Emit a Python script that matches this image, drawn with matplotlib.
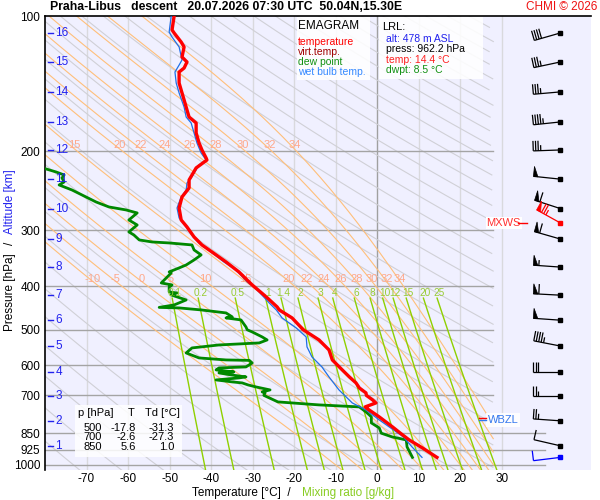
import numpy as np
import matplotlib
matplotlib.use('Agg')
import matplotlib.pyplot as plt
from matplotlib.patches import Rectangle
from matplotlib.ticker import NullLocator, FixedLocator

plt.rcParams['font.family'] = ['Liberation Sans', 'DejaVu Sans']

# ---------------- sounding ----------------
temp_p = [100, 107.4, 109.1, 114.3, 117.2, 123.4, 126.6, 130.6, 133.3, 141.0, 148.4, 153.8, 162.0, 167.9,
          173.1, 182.2, 191.8, 198.8, 207.1, 209.3, 218.0, 231.9, 241.6, 253.0, 267.7, 284.7, 295.1, 310.6,
          323.6, 335.4, 353.1, 371.6, 397.3, 422.5, 444.7, 451.6, 470.5, 500.0, 526.8, 554.5, 583.7, 614.4,
          636.8, 656.7, 673.7, 691.2, 700.0, 716.5, 727.7, 742.7, 750.4, 781.8, 823.0, 850.0, 879.7, 916.6, 962.2]
temp_t = [-48.9, -49.4, -48.9, -47.2, -46.5, -47.0, -45.8, -46.5, -47.7, -47.7, -47.0, -46.5, -45.8, -45.3,
          -43.6, -43.6, -42.9, -42.2, -41.2, -41.0, -43.6, -45.3, -45.3, -47.0, -47.7, -47.2, -45.8, -44.1,
          -42.2, -39.8, -36.4, -33.3, -30.1, -26.7, -24.1, -23.6, -20.5, -17.8, -14.0, -11.6, -10.8, -8.4,
          -6.7, -5.1, -4.3, -2.7, -2.6, -1.1, -0.3, -2.9, -2.3, 0.5, 3.7, 5.6, 7.7, 10.9, 14.4]

wb_p = [100, 108.6, 111.4, 117.2, 125.3, 128.6, 133.3, 141.0, 148.4, 159.5, 167.9, 173.1, 182.2, 191.8,
        201.9, 209.3, 214.7, 229.5, 235.5, 244.1, 253.0, 267.7, 281.8, 295.1, 307.4, 320.3, 335.4, 353.1,
        367.9, 391.2, 407.6, 435.7, 451.6, 470.5, 495.3, 518.7, 546.0, 574.8, 605.0, 636.8, 680.7, 727.7,
        754.2, 793.9, 844.3, 866.3, 911.9, 962.2]
wb_t = [-49.6, -50.1, -49.4, -47.7, -47.0, -47.7, -48.7, -48.4, -47.7, -46.5, -46.0, -44.8, -44.1, -43.4,
        -42.4, -41.2, -42.9, -44.8, -45.8, -46.0, -47.2, -48.2, -47.7, -46.0, -44.6, -42.9, -40.0, -36.9,
        -34.0, -31.3, -28.9, -26.0, -24.3, -22.9, -19.5, -17.1, -16.9, -15.7, -13.3, -11.6, -9.2, -6.0,
        -2.7, 0.5, 4.6, 6.3, 8.4, 10.8]

dew_p = [216.0, 222.6, 226.0, 229.5, 234.3, 237.9, 244.1, 250.4, 259.6, 266.3, 270.4, 274.6, 284.7, 292.1,
         302.7, 307.4, 315.4, 318.7, 320.3, 323.6, 332.0, 340.6, 349.5, 358.6, 364.1, 371.6, 373.6, 383.3,
         393.3, 397.3, 401.4, 411.8, 414.0, 418.2, 429.1, 440.2, 445.8, 447.0, 451.6, 458.6, 468.1, 470.5,
         475.4, 492.8, 500.0, 505.6, 518.7, 526.8, 534.9, 540.5, 548.8, 563.1, 577.7, 583.7, 585.0, 592.8,
         605.0, 608.1, 614.4, 620.7, 623.9, 630.3, 636.8, 640.1, 646.7, 653.3, 656.7, 663.5, 670.3, 680.7,
         687.7, 691.2, 700.0, 723.9, 727.7, 735.1, 742.7, 762.0, 773.8, 781.8, 806.3, 827.2, 850.0, 866.3,
         879.7, 911.9, 962.2]
dew_t = [-82.0, -77.3, -75.4, -75.9, -75.4, -76.6, -73.5, -71.1, -67.7, -64.6, -60.5, -57.8, -59.8, -57.8,
         -59.8, -58.6, -57.3, -54.2, -50.1, -44.6, -44.1, -42.4, -44.1, -46.0, -47.7, -50.1, -49.6, -50.8,
         -52.0, -49.4, -50.1, -50.1, -48.2, -49.6, -46.0, -48.9, -52.5, -47.7, -42.4, -36.4, -34.9, -36.4,
         -32.8, -31.6, -31.3, -30.1, -27.7, -26.5, -28.4, -38.1, -44.6, -46.0, -42.9, -36.4, -30.8, -30.1,
         -31.6, -38.1, -38.8, -34.5, -38.1, -35.2, -31.6, -33.3, -38.8, -34.9, -32.5, -31.1, -29.2, -25.8,
         -27.7, -27.0, -27.3, -23.9, -20.5, -14.0, -4.3, -2.7, -1.9, -1.4, -1.4, 0.5, 1.0, 3.6,
         7.0, 7.2, 8.5]

# winds (every km + max wind + surface), knots
barb_p = [109.1, 126.6, 147.6, 172.2, 198.8, 230.9, 268.5, 313.9, 362.5, 418.7, 476.0, 543.4, 620.3, 702.6, 797.6, 906.6]
barb_dir = [254, 258, 265, 264, 268, 276, 288, 286, 274, 273, 274, 281, 270, 270, 274, 283]
barb_spd = [40, 35, 35, 45, 35, 50, 60, 60, 55, 60, 50, 45, 30, 25, 25, 10]
mxws_p, mxws_dir, mxws_spd = 289.0, 299, 75
sfc_p, sfc_dir, sfc_spd = 962.2, 263, 10
wbzl_p = 794.0

# altitude marks
km_vals = [1, 2, 3, 4, 5, 6, 7, 8, 9, 10, 11, 12, 13, 14, 15, 16]
km_p = [906.6, 797.6, 702.6, 620.3, 543.4, 476.0, 418.7, 362.5, 313.9, 268.5, 230.9, 198.8, 172.2, 147.6, 126.6, 109.1]

# table and LRL
tab_p = [500, 700, 850]
tab_t = [-17.8, -2.6, 5.6]
tab_td = [-31.3, -27.3, 1.0]
lrl_alt, lrl_press, lrl_temp, lrl_dwpt = 478, 962.2, 14.4, 8.5

# background isolines
theta_k = list(range(190, 590, 10))
thw_vals = [-10, -5, 0, 5, 10, 15, 20, 22, 24, 26, 28, 30, 32, 34]
mix_vals = [0.1, 0.2, 0.5, 1, 1.4, 2, 3, 4, 6, 8, 10, 12, 15, 20, 25]
p_ticks = [100, 200, 300, 400, 500, 600, 700, 850, 925, 1000]
t_ticks = [-70, -60, -50, -40, -30, -20, -10, 0, 10, 20, 30]

T_LEFT, T_RIGHT, T_CLIP = -80.0, 51.5, 28.0
P_BOT, P_TOP = 1026.5, 100.0

RD, CP, LV, EPS = 287.04, 1005.7, 2.501e6, 0.622


def esat(tc):
    return 6.112 * np.exp(17.67 * tc / (tc + 243.5))


def lapse(T, p):
    es = esat(T - 273.15)
    rs = EPS * es / (p - es)
    return (RD * T + LV * rs) / (p * (CP + LV ** 2 * rs * EPS / (RD * T ** 2)))


def moist_line(tw, plev):
    out = []
    for seg in (plev[plev <= 1000][::-1], plev[plev >= 1000]):
        T = tw + 273.15
        vals = [T]
        for i in range(1, len(seg)):
            p0, p1 = seg[i - 1], seg[i]
            k1 = lapse(T, p0)
            k2 = lapse(T + 0.5 * (p1 - p0) * k1, 0.5 * (p0 + p1))
            T = T + (p1 - p0) * k2
            vals.append(T)
        out.append((seg, np.array(vals) - 273.15))
    p = np.concatenate([out[0][0][::-1], out[1][0][1:]])
    t = np.concatenate([out[0][1][::-1], out[1][1][1:]])
    return p, t


def mix_td(w, p):
    e = w * p / (622.0 + w)
    a = np.log(e / 6.112)
    return 243.5 * a / (17.67 - a)


W, H = 600, 500
fig = plt.figure(figsize=(6, 5), dpi=100)
ax = fig.add_axes([45 / W, 1 - 470 / H, 546 / W, 454 / H])
ax.set_facecolor('#f0f0ff')
ax.set_yscale('log')
ax.set_xlim(T_LEFT, T_RIGHT)
ax.set_ylim(P_BOT, P_TOP)

for s in ('right', 'bottom'):
    ax.spines[s].set_visible(False)
ax.spines['top'].set_linewidth(1.2)
ax.spines['left'].set_linewidth(1.2)

ax.yaxis.set_major_locator(FixedLocator(p_ticks))
ax.yaxis.set_minor_locator(NullLocator())
ax.set_yticklabels([str(p) for p in p_ticks])
ax.set_xticks(t_ticks)
ax.set_xticklabels([str(t) for t in t_ticks])
ax.tick_params(axis='both', length=0, labelsize=8.5)
ax.tick_params(axis='y', pad=3.5)
ax.tick_params(axis='x', pad=2.5)

# grid
for t in t_ticks:
    ax.axvline(t, color='#a0a0a0' if t == 0 else '#d9d9dd', lw=1, zorder=1)
for p in p_ticks[1:]:
    right = 40.5 if p >= 850 else T_CLIP
    ax.plot([T_LEFT, right], [p, p], color='#a4a4a4', lw=1, zorder=1.2)

plev = np.arange(100.0, 1031.0, 2.0)

# dry adiabats
for th in theta_k:
    tt = th * (plev / 1000.0) ** 0.2857 - 273.15
    tt = np.where(tt > T_CLIP, np.nan, tt)
    ax.plot(tt, plev, color='#d0d0d6', lw=0.8, zorder=1.1)

# saturated adiabats with labels
lab_kw = dict(color='#ffa88a', fontsize=8, ha='center', va='center', zorder=3)
for tw in thw_vals:
    pp, tt = moist_line(tw, plev)
    tt_c = np.where(tt > T_CLIP, np.nan, tt)
    ax.plot(tt_c, pp, color='#ffbf7a', lw=0.8, zorder=1.3)
    for pl_pos, pl_lab in ((198.0, 193.8), (390.0, 385.3)):
        tl = np.interp(pl_pos, pp, tt)
        if T_LEFT + 2 < tl < T_CLIP:
            ax.text(tl, pl_lab, str(tw), **lab_kw)

# mixing ratio lines
pm = np.linspace(425.0, P_BOT, 200)
for w in mix_vals:
    ax.plot(mix_td(w, pm), pm, color='#8fd000', lw=1, zorder=1.4)
    ax.text(mix_td(w, 425.0) + 0.5, 413.0, ('%g' % w), color='#99cc33', fontsize=7.3,
            ha='center', va='center', zorder=6.5)

# profiles
ax.plot(dew_t, dew_p, color='#008800', lw=2.0, zorder=5, solid_joinstyle='round')
ax.plot(wb_t, wb_p, color='#1f6fe6', lw=0.9, zorder=5.5)
ax.plot(temp_t, temp_p, color='#ff0000', lw=2.4, zorder=6, solid_joinstyle='round')

# altitude marks
ytr = ax.get_yaxis_transform()
for k, p in zip(km_vals, km_p):
    ax.plot([0.006, 0.015], [p, p], color='#2222ee', lw=1, transform=ytr, zorder=7, clip_on=False)
    ax.text(0.019, p, str(k), color='#2222ee', fontsize=8.5, ha='left', va='center', transform=ytr, zorder=7)

# wind barbs, drawn in pixel space at the station column
BX = 44.1
STAFF, FEAT, FLAGW, GAP = 27.0, 10.0, 4.5, 2.5
inv = ax.transData.inverted()


def draw_barb(p, d, s, color):
    sx, sy = ax.transData.transform((BX, p))
    r = np.deg2rad(d)
    ux, uy = np.sin(r), np.cos(r)      # towards where the wind comes from
    bx, by = uy, -ux                   # feather direction
    ex, ey = sx + STAFF * ux, sy + STAFF * uy
    lines = [[(sx, sy), (ex, ey)]]
    flags = []
    n50 = int(s // 50)
    n10 = int((s - 50 * n50) // 10)
    n5 = int((s - 50 * n50 - 10 * n10) // 5)
    pos = 0.0
    for _ in range(n50):
        a = (ex - pos * ux, ey - pos * uy)
        c = (ex - (pos + FLAGW) * ux, ey - (pos + FLAGW) * uy)
        flags.append([a, (a[0] + FEAT * bx, a[1] + FEAT * by), c])
        pos += FLAGW + 1.0
    if n50 == 0 and n10 == 0:
        pos = GAP
    for _ in range(n10):
        a = (ex - pos * ux, ey - pos * uy)
        lines.append([a, (a[0] + FEAT * bx, a[1] + FEAT * by)])
        pos += GAP
    for _ in range(n5):
        a = (ex - pos * ux, ey - pos * uy)
        lines.append([a, (a[0] + 0.55 * FEAT * bx, a[1] + 0.55 * FEAT * by)])
    for seg in lines:
        xy = inv.transform(np.array(seg))
        ax.plot(xy[:, 0], xy[:, 1], color=color, lw=0.9, zorder=8, solid_capstyle='butt', clip_on=False)
    for tri in flags:
        xy = inv.transform(np.array(tri))
        ax.fill(xy[:, 0], xy[:, 1], color=color, lw=0.5, zorder=8, clip_on=False)
    ax.plot([BX], [p], 's', color=color, ms=2.8, zorder=9)


for p, d, s in zip(barb_p, barb_dir, barb_spd):
    draw_barb(p, d, s, 'black')
draw_barb(mxws_p, mxws_dir, mxws_spd, 'red')
draw_barb(sfc_p, sfc_dir, sfc_spd, 'blue')


def fig_box(x0, y0, x1, y1, alpha=0.88):
    fig.add_artist(Rectangle((x0 / W, 1 - y1 / H), (x1 - x0) / W, (y1 - y0) / H,
                             transform=fig.transFigure, facecolor='white', edgecolor='none',
                             alpha=alpha, zorder=2))


def fig_txt(x, y, s, **kw):
    kw.setdefault('fontsize', 7.5)
    kw.setdefault('va', 'center')
    fig.text(x / W, 1 - y / H, s, zorder=3, **kw)


# MXWS and WBZL labels
ax.text(26.3, mxws_p, 'MXWS', color='#ff3030', fontsize=8, ha='left', va='center', zorder=9,
        bbox=dict(facecolor='white', edgecolor='none', pad=0.6))
ax.plot([34.0, 36.0], [mxws_p, mxws_p], color='red', lw=1, zorder=9)
ax.text(26.6, wbzl_p, 'WBZL', color='#3377ee', fontsize=8, ha='left', va='center', zorder=9,
        bbox=dict(facecolor='white', edgecolor='none', pad=1.2, alpha=0.9))
ax.plot([24.6, 26.2], [wbzl_p * 0.992, wbzl_p * 0.992], color='red', lw=1, zorder=10)
ax.plot([24.6, 26.2], [wbzl_p, wbzl_p], color='#3377ee', lw=1, zorder=10)

# legend box
fig_box(297, 17, 370, 80)
fig_txt(298, 26, 'EMAGRAM', fontsize=8.5)
fig_txt(298, 42, 'temperature', color='#ff0000')
fig_txt(298, 52, 'virt.temp.', color='#a00000')
fig_txt(298, 62, 'dew point', color='#109010')
fig_txt(298, 72, 'wet bulb temp.', color='#3388ff')

# launch point box
fig_box(379, 17, 483, 79)
fig_txt(382, 27, 'LRL:', fontsize=8)
fig_txt(386, 39, 'alt: %d m ASL' % lrl_alt, color='#2222ee')
fig_txt(386, 49.5, 'press: %.1f hPa' % lrl_press, color='black')
fig_txt(386, 60, 'temp: %.1f °C' % lrl_temp, color='#ff2020')
fig_txt(386, 70, 'dwpt: %.1f °C' % lrl_dwpt, color='#109010')

# standard levels table
fig_box(75, 405, 182, 457, alpha=0.85)
fig_txt(78, 413, 'p [hPa]', fontsize=8)
fig_txt(131, 413, 'T', fontsize=8, ha='center')
fig_txt(180, 413, 'Td [°C]', fontsize=8, ha='right')
for i, (p, t, td) in enumerate(zip(tab_p, tab_t, tab_td)):
    yy = 428 + i * 9.3
    fig_txt(102, yy, str(p), fontsize=8, ha='right')
    fig_txt(136, yy, '%.1f' % t, fontsize=8, ha='right')
    fig_txt(174, yy, '%.1f' % td, fontsize=8, ha='right')

# titles and axis labels
fig_txt(50, 7.5, 'Praha-Libus   descent   20.07.2026 07:30 UTC  50.04N,15.30E',
        fontsize=8.8, fontweight='bold')
fig_txt(597, 7.5, 'CHMI © 2026', color='#ee1111', fontsize=8.5, ha='right')
fig_txt(291, 493, 'Temperature [°C]  /', fontsize=8.5, ha='right')
fig_txt(302, 493, 'Mixing ratio [g/kg]', fontsize=8.5, color='#88cc22', ha='left')
fig_txt(10, 292, 'Pressure [hPa]', fontsize=8.5, rotation=90, ha='center')
fig_txt(10, 243, '/', fontsize=8.5, rotation=90, ha='center')
fig_txt(10, 202, 'Altitude [km]', fontsize=8.5, rotation=90, ha='center', color='#2222ee')

fig.savefig('out.png', dpi=100)
